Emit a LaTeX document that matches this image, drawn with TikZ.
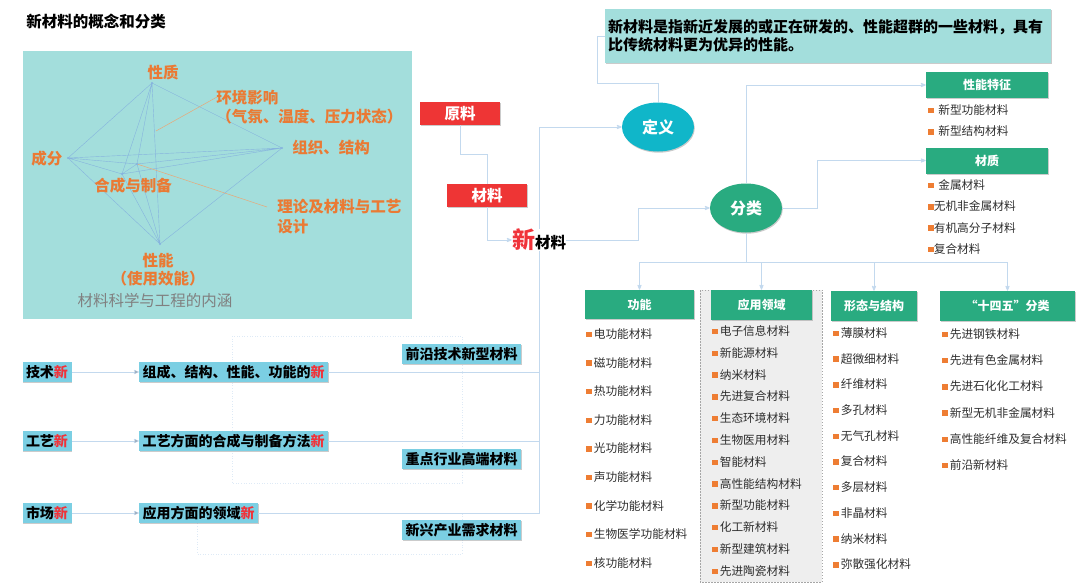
\documentclass[tikz,border=0pt]{standalone}
\usepackage{fontspec}
\setmainfont{Noto Sans CJK SC}
\usepackage{tikz}
\usetikzlibrary{shapes, positioning, arrows, shadows}

\definecolor{panel}{HTML}{A3DEDC}
\definecolor{orT}{HTML}{EA7A34}
\definecolor{redB}{HTML}{EE3535}
\definecolor{greenH}{HTML}{29AB80}
\definecolor{cyanE}{HTML}{10B6C9}
\definecolor{lblue}{HTML}{7BCFE3}
\definecolor{connblue}{HTML}{C3D9EE}
\definecolor{gblue}{HTML}{86B3DE}
\definecolor{oline}{HTML}{E8A878}
\definecolor{itemgray}{HTML}{2E2E2E}
\definecolor{bulor}{HTML}{EE7D33}
\definecolor{xinred}{HTML}{F0333A}
\definecolor{lgray}{HTML}{EEEEEE}

\newcommand{\bul}{\textcolor{bulor}{\raisebox{1.2pt}{\rule{5.5pt}{5.5pt}}}\hspace{2pt}}
\newcommand{\bulw}{\textcolor{bulor}{\raisebox{1.2pt}{\rule{5.5pt}{5.5pt}}}\hspace{4.5pt}}
\newcommand{\bulx}{\textcolor{bulor}{\raisebox{1.2pt}{\rule{5.5pt}{5.5pt}}}}
\newcommand{\redxin}{\textcolor{xinred}{新}}

\begin{document}
\begin{tikzpicture}[x=1pt, y=-1pt, >=stealth', semithick,
    conn/.style={draw=connblue, line width=0.8pt},
    gline/.style={draw=gblue, line width=0.4pt},
    oln/.style={draw=oline, line width=0.5pt},
    dotln/.style={draw=connblue!55, line width=0.6pt, dotted},
    shd/.style={drop shadow={shadow xshift=0.8pt, shadow yshift=-1.2pt, fill=black!45, opacity=0.45}},
    orng/.style={text=orT, font=\fontsize{15.5}{19}\selectfont\bfseries, inner sep=0pt},
    redbox/.style={fill=redB, text=white, font=\fontsize{15.5}{18}\selectfont\bfseries, minimum width=80pt, minimum height=23pt, inner sep=0pt, shd},
    lbox/.style={fill=lblue, font=\fontsize{14}{16}\selectfont\bfseries, inner xsep=3.5pt, inner ysep=0pt, minimum height=20pt, shd},
    ell/.style={ellipse, minimum width=72pt, minimum height=49pt, inner sep=0pt, text=white, font=\fontsize{16}{16}\selectfont\bfseries, shd},
    hdr/.style={fill=greenH, text=white, font=\fontsize{12}{14}\selectfont\bfseries, inner sep=0pt, minimum height=29pt, shd},
    item/.style={anchor=west, inner sep=0pt, text=itemgray, font=\fontsize{11.7}{13}\selectfont},
    dn/.style 2 args={below=#1 of #2.west, anchor=west}]

    \useasboundingbox (0,0) rectangle (1080,586);

    % title and panel
    \node[anchor=west, inner sep=0pt, font=\fontsize{15.5}{18}\selectfont\bfseries] (title) at (26,22) {新材料的概念和分类};
    \fill[panel] (23,51) rectangle (412,319);

    \coordinate (pA) at (152,83);
    \coordinate (pB) at (68,158);
    \coordinate (pC) at (282,148);
    \coordinate (pD) at (122,174);
    \coordinate (pE) at (137,164);
    \coordinate (pF) at (160,244);
    \coordinate (pG) at (156,131);
    \coordinate (hjEnd) at (217,97);
    \coordinate (llEnd) at (267,207);
    \draw[gline]
            (pA) -- (pB) (pA) -- (pC) (pA) -- (pD) (pA) -- (pE) (pA) -- (pF)
            (pB) -- (pC) (pB) -- (pD) (pB) -- (pE) (pB) -- (pF)
            (pC) -- (pD) (pC) -- (pE) (pC) -- (pF)
            (pD) -- (pE) (pD) -- (pF)
            (pE) -- (pF);
    \draw[oln] (pG) -- (hjEnd) (pE) -- (llEnd);
    \fill[gblue] (pA) circle (1.2) (pB) circle (1.2) (pC) circle (1.2)
                 (pD) circle (1.2) (pE) circle (1.2) (pF) circle (1.2);

    \node[orng] (xingzhi) at (163,73) {性质};
    \node[orng, anchor=west, align=left] (huanjing) at (216,107.5) {环境影响\\（气氛、温度、压力状态）};
    \node[orng, anchor=west] (zuzhi) at (292,148) {组织、结构};
    \node[orng, anchor=west] (chengfen) at (31,159) {成分};
    \node[orng, anchor=west] (hecheng) at (94,186) {合成与制备};
    \node[orng, anchor=west, align=left, font=\fontsize{15.5}{20}\selectfont\bfseries] (lilun) at (277,217) {理论及材料与工艺\\设计};
    \node[orng, align=center, font=\fontsize{15.5}{18}\selectfont\bfseries] (xingneng) at (158,270) {性能\\（使用效能）};
    \node[inner sep=0pt, text=black!50, font=\fontsize{15.5}{18}\selectfont] (neihan) at (155,301) {材料科学与工程的内涵};

    % centre
    \node[redbox] (yuanliao) at (460,113.5) {原料};
    \node[redbox] (cailiao) at (487,195.5) {材料};
    \node[inner sep=0pt, font=\bfseries] (xin) at (539,240) {{\fontsize{23}{23}\selectfont\color{xinred}新}{\fontsize{15.5}{16}\selectfont 材料}};

    \node[fill=panel, minimum width=446pt, minimum height=54pt, text width=440pt, align=left, inner sep=0pt, font=\fontsize{15}{18}\selectfont\bfseries, shd] (def) at (828,36)
        {新材料是指新近发展的或正在研发的、性能超群的一些材料，具有\\比传统材料更为优异的性能。};
    \node[ell, fill=cyanE] (dingyi) at (658,127) {定义};
    \node[ell, fill=greenH] (fenlei) at (746,208) {分类};

    % right, upper
    \node[hdr, minimum width=122pt, minimum height=26pt] (texing) at (987,85) {性能特征};
    \node[item] (t1) at (928,110) {\bulw 新型功能材料};
    \node[item, dn={21.5pt}{t1}] (t2) {\bulw 新型结构材料};

    \node[hdr, minimum width=122pt, minimum height=26pt] (caizhi) at (987,160.5) {材质};
    \node[item] (c1) at (928,185) {\bulw 金属材料};
    \node[item, dn={21.3pt}{c1}] (c2) {\bulx 无机非金属材料};
    \node[item, dn={21.3pt}{c2}] (c3) {\bulx 有机高分子材料};
    \node[item, dn={21.3pt}{c3}] (c4) {\bulx 复合材料};

    % right, lower
    \fill[lgray] (700,290) rectangle (822,582);
    \draw[black!35, line width=0.5pt, dash pattern=on 1.5pt off 1.5pt] (700,290) rectangle (822,582);

    \node[hdr, minimum width=109pt] (gongneng) at (639.5,304.5) {功能};
    \node[hdr, minimum width=101pt, minimum height=30pt] (yingyong) at (761.5,305) {应用领域};
    \node[hdr, minimum width=86pt, minimum height=30pt] (xingtai) at (874,306) {形态与结构};
    \node[hdr, minimum width=135pt, minimum height=30pt] (shisiwu) at (1007.5,306) {“十四五”分类};

    \node[item] (g1) at (586,334) {\bul 电功能材料};
    \node[item, dn={28.6pt}{g1}] (g2) {\bul 磁功能材料};
    \node[item, dn={28.6pt}{g2}] (g3) {\bul 热功能材料};
    \node[item, dn={28.6pt}{g3}] (g4) {\bul 力功能材料};
    \node[item, dn={28.6pt}{g4}] (g5) {\bul 光功能材料};
    \node[item, dn={28.6pt}{g5}] (g6) {\bul 声功能材料};
    \node[item, dn={28.6pt}{g6}] (g7) {\bul 化学功能材料};
    \node[item, dn={28.6pt}{g7}] (g8) {\bul 生物医学功能材料};
    \node[item, dn={28.6pt}{g8}] (g9) {\bul 核功能材料};

    \node[item] (y1) at (712,331) {\bul 电子信息材料};
    \node[item, dn={21.8pt}{y1}] (y2) {\bul 新能源材料};
    \node[item, dn={21.8pt}{y2}] (y3) {\bul 纳米材料};
    \node[item, dn={21.8pt}{y3}] (y4) {\bul 先进复合材料};
    \node[item, dn={21.8pt}{y4}] (y5) {\bul 生态环境材料};
    \node[item, dn={21.8pt}{y5}] (y6) {\bul 生物医用材料};
    \node[item, dn={21.8pt}{y6}] (y7) {\bul 智能材料};
    \node[item, dn={21.8pt}{y7}] (y8) {\bul 高性能结构材料};
    \node[item, dn={21.8pt}{y8}] (y9) {\bul 新型功能材料};
    \node[item, dn={21.8pt}{y9}] (y10) {\bul 化工新材料};
    \node[item, dn={21.8pt}{y10}] (y11) {\bul 新型建筑材料};
    \node[item, dn={21.8pt}{y11}] (y12) {\bul 先进陶瓷材料};

    \node[item] (x1) at (833,333) {\bul 薄膜材料};
    \node[item, dn={25.7pt}{x1}] (x2) {\bul 超微细材料};
    \node[item, dn={25.7pt}{x2}] (x3) {\bul 纤维材料};
    \node[item, dn={25.7pt}{x3}] (x4) {\bul 多孔材料};
    \node[item, dn={25.7pt}{x4}] (x5) {\bul 无气孔材料};
    \node[item, dn={25.7pt}{x5}] (x6) {\bul 复合材料};
    \node[item, dn={25.7pt}{x6}] (x7) {\bul 多层材料};
    \node[item, dn={25.7pt}{x7}] (x8) {\bul 非晶材料};
    \node[item, dn={25.7pt}{x8}] (x9) {\bul 纳米材料};
    \node[item, dn={25.7pt}{x9}] (x10) {\bul 弥散强化材料};

    \node[item] (s1) at (942,334) {\bul 先进钢铁材料};
    \node[item, dn={26.2pt}{s1}] (s2) {\bul 先进有色金属材料};
    \node[item, dn={26.2pt}{s2}] (s3) {\bul 先进石化化工材料};
    \node[item, dn={26.2pt}{s3}] (s4) {\bul 新型无机非金属材料};
    \node[item, dn={26.2pt}{s4}] (s5) {\bul 高性能纤维及复合材料};
    \node[item, dn={26.2pt}{s5}] (s6) {\bul 前沿新材料};

    % left, lower
    \draw[dotln] (232,336) rectangle (462,483);
    \draw[dotln] (197,513) rectangle (462,554);

    \node[lbox] (jishu) at (47,372) {技术\redxin};
    \node[lbox] (gongyi) at (47,441) {工艺\redxin};
    \node[lbox] (shichang) at (47,513) {市场\redxin};
    \node[lbox, right=67pt of jishu] (zucheng) {组成、结构、性能、功能的\redxin};
    \node[lbox, right=67pt of gongyi] (fangfa) {工艺方面的合成与制备方法\redxin};
    \node[lbox, right=67pt of shichang] (lingyu) {应用方面的领域\redxin};

    \node[lbox] (qianyan) at (461.5,354) {前沿技术新型材料};
    \node[lbox] (zhongdian) at (461.5,459) {重点行业高端材料};
    \node[lbox] (xinxing) at (461.5,530) {新兴产业需求材料};

    % connectors
    \draw[conn] (yuanliao.south) -- ++(0,29) -| (cailiao.north);
    \draw[conn,->] (cailiao.south) |- (xin.west);
    \draw[conn,->] (xin.north) |- (dingyi.west);
    \draw[conn,->] (xin.east) -- ++(72,0) |- (fenlei.west);
    \draw[conn] (xin.south) |- (zucheng.east);
    \draw[conn] (xin.south) |- (fangfa.east);
    \draw[conn] (xin.south) |- (lingyu.east);
    \draw[conn] (def.west) -- ++(-7,0) -- ++(0,47) -| (dingyi.north);
    \draw[conn,->] (fenlei.north) |- (texing.west);
    \draw[conn,->] (fenlei.east) -- ++(35,0) |- (caizhi.west);

    \coordinate (split) at (746,262);
    \draw[conn] (fenlei.south) -- (split);
    \draw[conn,->] (split) -| (gongneng.north);
    \draw[conn,->] (split) -| (yingyong.north);
    \draw[conn,->] (split) -| (xingtai.north);
    \draw[conn,->] (split) -| (shisiwu.north);

    \draw[conn,->]
            (jishu) edge (zucheng)
            (gongyi) edge (fangfa)
            (shichang) edge (lingyu)
            ;
\end{tikzpicture}
\end{document}
